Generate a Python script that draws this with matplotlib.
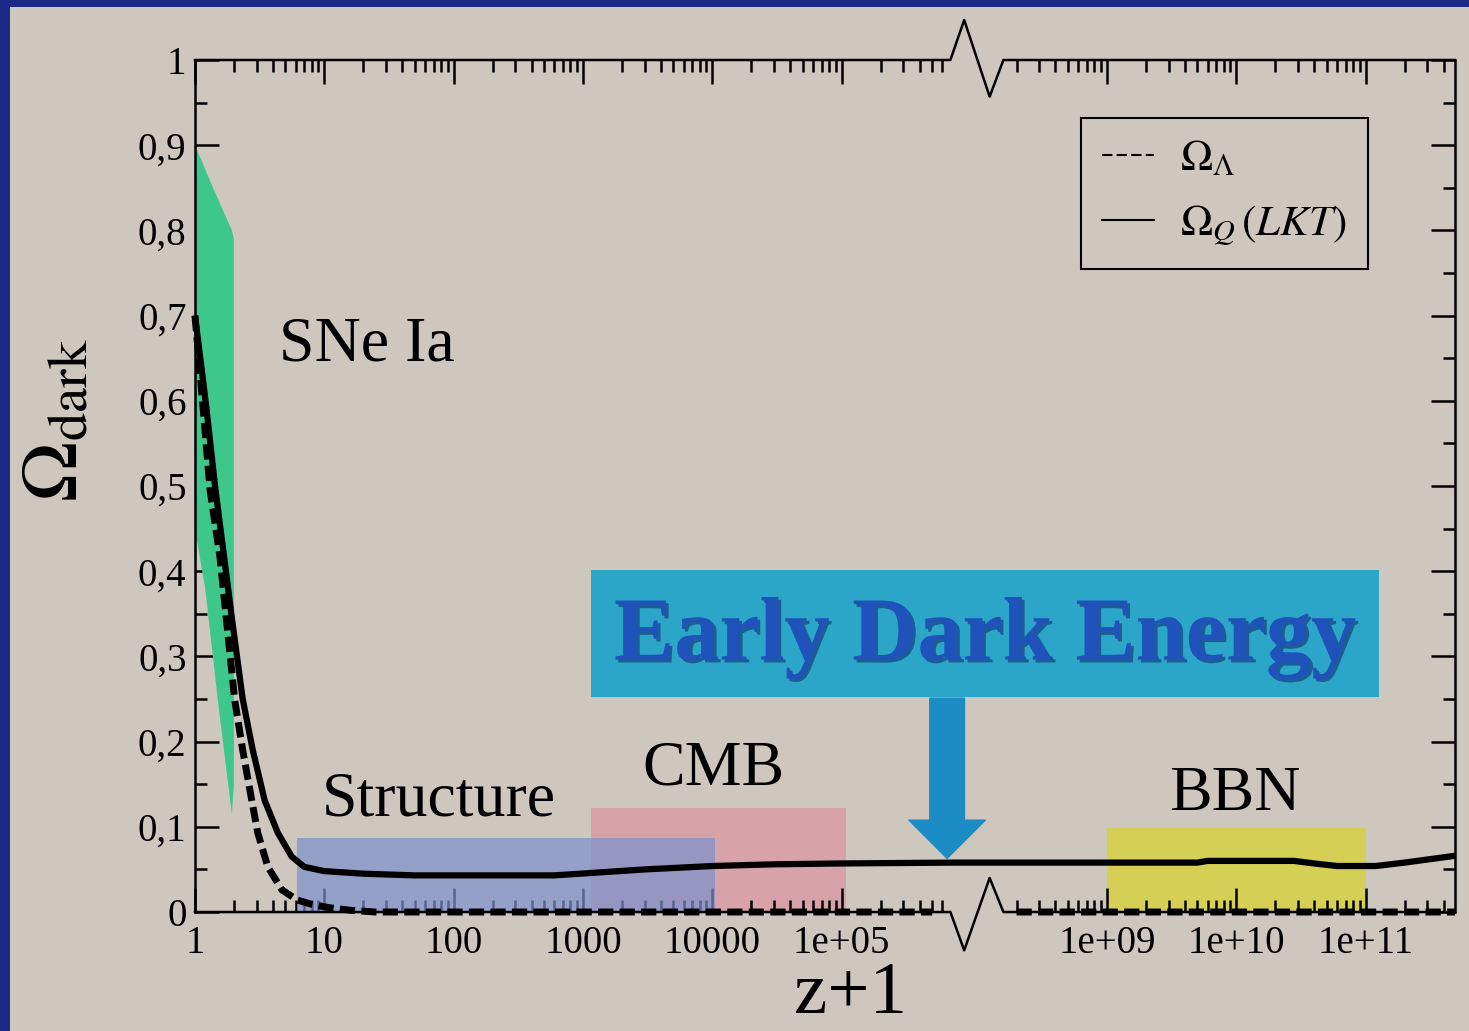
#Omega_dark vs z+1 (early dark energy slide)

#imports
import matplotlib
matplotlib.use('Agg')
import matplotlib.pyplot as plt
import matplotlib.patheffects as pe
from matplotlib.patches import Rectangle
from matplotlib.lines import Line2D
import numpy as np

#data
# solid curve, Omega_Q (LKT)
q_z1 = [1.0, 1.1, 1.23, 1.43, 1.67, 1.93, 2.34, 2.8, 3.46, 4.37, 5.6, 7.0, 10, 20, 50,
        200, 600, 1200, 3000, 1e4, 3e4, 1e5, 1e6, 1e8, 5e9, 6e9, 2.8e10, 4e10, 6e10,
        1.2e11, 2e11, 4.9e11]
q_omega = [0.70, 0.65, 0.59, 0.50, 0.42, 0.345, 0.25, 0.19, 0.131, 0.093, 0.065, 0.053,
           0.048, 0.045, 0.043, 0.043, 0.043, 0.046, 0.050, 0.054, 0.056, 0.057, 0.058,
           0.058, 0.058, 0.060, 0.060, 0.057, 0.054, 0.054, 0.058, 0.066]

# dashed curve, Omega_Lambda (nan = axis break)
lam_z1 = [1.0, 1.1, 1.31, 1.56, 2.03, 2.34, 2.75, 3.06, 3.66, 4.7, 6.2, 8, 11, 16, 25,
          1e5, 5e5, 1e7, 2e8, 4.9e11]
lam_omega = [0.70, 0.63, 0.495, 0.417, 0.249, 0.19, 0.131, 0.093, 0.053, 0.026, 0.014,
             0.009, 0.005, 0.002, 0.0, 0.0, 0.0, np.nan, 0.0, 0.0]

# SNe Ia band outline
sne_z1 = [1.0, 1.38, 1.93, 2.0, 2.0, 1.93, 1.5, 1.2, 1.0]
sne_omega = [0.90, 0.85, 0.80, 0.79, 0.15, 0.115, 0.25, 0.38, 0.45]

# probe boxes
band_names = ['Structure', 'CMB', 'BBN']
band_lo = [6.1, 1150, 1e9]
band_hi = [1.04e4, 1.08e5, 1.0e11]
band_top = [0.087, 0.122, 0.099]

xticks = [1, 10, 100, 1000, 1e4, 1e5, 1e9, 1e10, 1e11]
xlabels = ['1', '10', '100', '1000', '10000', '1e+05', '1e+09', '1e+10', '1e+11']
yticks = [0, 0.1, 0.2, 0.3, 0.4, 0.5, 0.6, 0.7, 0.8, 0.9, 1.0]
ylabels = ['0', '0,1', '0,2', '0,3', '0,4', '0,5', '0,6', '0,7', '0,8', '0,9', '1']

#broken log axis: log10 from 5.84 to 8.2 squeezed into 0.41 decades
A = 5.84
B = 8.2
G = 0.41

def fwd(x):
    lx = np.log10(np.clip(x, 1e-300, None))
    return np.where(lx <= A, lx, np.where(lx >= B, lx - (B - A - G), A + (lx - A) * G / (B - A)))

def inv(u):
    return 10 ** np.where(u <= A, u, np.where(u >= A + G, u + (B - A - G), A + (u - A) * (B - A) / G))

#style
bg = '#cdc7bd'
plt.rcParams['font.family'] = ['Liberation Serif', 'DejaVu Serif']
plt.rcParams['mathtext.fontset'] = 'stix'

fig = plt.figure(figsize=(14.69, 10.31), dpi=100, facecolor='#1b2a86')
fig.add_artist(Rectangle((10 / 1469, 0), 1, 1 - 7 / 1031, transform=fig.transFigure,
                         facecolor=bg, edgecolor='none', zorder=-10))

ax = fig.add_axes([0.1327, 0.1154, 0.8577, 0.8264])
ax.set_facecolor('none')
ax.set_xscale('function', functions=(fwd, inv))
ax.set_xlim(1, 10 ** 11.69)
ax.set_ylim(0, 1)

# probe boxes
ax.fill_between([band_lo[1], band_hi[1]], 0, band_top[1], color='#d7a2a8', lw=0, zorder=1)
ax.fill_between([band_lo[0], band_hi[0]], 0, band_top[0], color='#7c90cd', alpha=0.7, lw=0, zorder=2)
ax.fill_between([band_lo[2], band_hi[2]], 0, band_top[2], color='#d6cf55', lw=0, zorder=1)

# SNe band
ax.fill(sne_z1, sne_omega, color='#3ec78b', lw=0, zorder=2)

# curves
ax.plot(q_z1, q_omega, color='black', lw=4.5, zorder=4, solid_capstyle='butt', clip_on=False)
ax.plot(lam_z1, lam_omega, color='black', lw=5, dashes=(2.2, 0.9), zorder=4, clip_on=False)

# labels of the probes
ax.text(21.2, 0.665, 'SNe Ia', fontsize=46, ha='center', va='center', zorder=6)
ax.text(77, 0.131, band_names[0], fontsize=46, ha='center', va='center', zorder=6)
ax.text(1.02e4, 0.167, band_names[1], fontsize=46, ha='center', va='center', zorder=6)
ax.text(9.7e9, 0.137, band_names[2], fontsize=46, ha='center', va='center', zorder=6)

# early dark energy box and arrow
ax.add_patch(Rectangle((0.314, 0.252), 0.626, 0.149, transform=ax.transAxes,
                       facecolor='#2ba5c8', edgecolor='none', zorder=5))
ax.text(0.627, 0.322, 'Early Dark Energy', transform=ax.transAxes, fontsize=65,
        fontweight='bold', color='#1f52bb', ha='center', va='center', zorder=6,
        path_effects=[pe.withSimplePatchShadow(offset=(2, -2), shadow_rgbFace='#12306e', alpha=0.6)])
ax.annotate('', xy=(0.597, 0.063), xytext=(0.597, 0.251), xycoords='axes fraction',
            arrowprops=dict(arrowstyle='simple,head_width=2.2,head_length=1.1,tail_width=1.0',
                            mutation_scale=25, color='#1b8cc4', shrinkA=0, shrinkB=0),
            zorder=6)

# ticks
ax.set_xticks(xticks, xlabels)
minor = []
for d in range(0, 12):
    for m in range(2, 10):
        v = m * 10.0 ** d
        lv = np.log10(v)
        if lv < A - 0.05 or (lv > B and lv < 11.69):
            minor.append(v)
ax.set_xticks(minor, minor=True)
ax.set_yticks(yticks, ylabels)
ax.set_yticks(np.arange(0.05, 1.0, 0.1), minor=True)
ax.tick_params(which='both', direction='in', top=True, right=True, width=1.8, labelsize=28)
ax.tick_params(which='major', length=17)
ax.tick_params(which='minor', length=8.5)
ax.tick_params(axis='y', pad=6)
ax.tick_params(axis='x', pad=9)

# frame with break zigzag
for s in ['left', 'right']:
    ax.spines[s].set_linewidth(1.8)
ax.spines['top'].set_visible(False)
ax.spines['bottom'].set_visible(False)
f0, f1 = ax.transAxes.inverted().transform(ax.transData.transform([(10 ** A, 0), (10 ** B, 0)]))[:, 0]
fa = f0 + 0.26 * (f1 - f0)
fb = f0 + 0.74 * (f1 - f0)
ax.plot([0, f0, fa, fb, f1, 1], [1, 1, 1.047, 0.957, 1, 1], transform=ax.transAxes,
        color='black', lw=1.8, clip_on=False, zorder=3)
ax.plot([0, f0, fa, fb, f1, 1], [0, 0, -0.045, 0.040, 0, 0], transform=ax.transAxes,
        color='black', lw=1.8, clip_on=False, zorder=3)

# legend
handles = [Line2D([], [], color='black', lw=1.5, ls=(0, (5, 2))),
           Line2D([], [], color='black', lw=1.5)]
leg = ax.legend(handles, [r'$\Omega_\Lambda$', r'$\Omega_Q\,(LKT)$'], loc='upper right',
                bbox_to_anchor=(0.931, 0.932), borderaxespad=0, fancybox=False,
                edgecolor='black', facecolor=bg, framealpha=1, fontsize=31,
                handlelength=1.2, handletextpad=0.6, labelspacing=0.55, borderpad=0.5)
leg.get_frame().set_linewidth(1.5)

# axis titles
fig.text(58 / 1469, 1 - 420 / 1031, r'$\Omega_{\mathrm{dark}}$', fontsize=58,
         rotation=90, ha='center', va='center')
fig.text(850 / 1469, 0.002, 'z+1', fontsize=54, ha='center', va='bottom')

plt.savefig('out.png', dpi=100, facecolor=fig.get_facecolor())
